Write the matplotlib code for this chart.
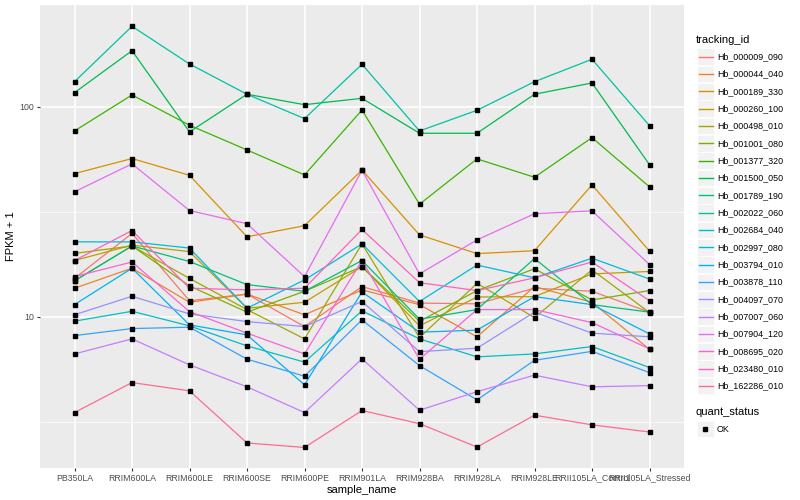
import matplotlib
matplotlib.use('Agg')
import matplotlib.pyplot as plt
from matplotlib.lines import Line2D
from matplotlib.patches import Rectangle

plt.rcParams['font.family'] = ['Liberation Sans', 'DejaVu Sans']

# sample names on the x axis
samples = ['PB350LA', 'RRIM600LA', 'RRIM600LE', 'RRIM600SE', 'RRIM600PE', 'RRIM901LA',
           'RRIM928BA', 'RRIM928LA', 'RRIM928LE', 'RRII105LA_Control', 'RRII105LA_Stressed']

# FPKM + 1 per tracking id, one value per sample
hb_000009_090 = [15.2, 24.9, 11.9, 12.8, 8.96, 13.9, 11.6, 11.5, 13.65, 13.2, 10.5]
hb_000044_040 = [13.65, 17.0, 11.7, 12.8, 10.2, 13.4, 11.4, 8.01, 13.9, 11.7, 6.98]
hb_000189_330 = [48.0, 56.6, 47.1, 24.0, 27.1, 49.9, 24.5, 19.95, 20.6, 42.4, 20.5]
hb_000260_100 = [18.5, 21.9, 20.4, 10.96, 11.7, 17.3, 9.03, 12.4, 12.45, 15.97, 16.4]
hb_000498_010 = [20.0, 21.7, 15.2, 10.8, 7.83, 22.2, 7.94, 14.4, 9.89, 16.7, 10.45]
hb_001001_080 = [14.8, 21.7, 14.0, 10.5, 13.2, 17.3, 9.5, 13.3, 16.9, 12.0, 13.3]
hb_001377_320 = [76.6, 113.7, 81.6, 62.2, 47.3, 96.4, 34.3, 56.4, 46.1, 71.2, 41.5]
hb_001500_050 = [116.6, 184.8, 75.8, 114.6, 102.2, 109.6, 74.7, 74.7, 114.6, 129.7, 52.9]
hb_001789_190 = [14.8, 21.7, 18.3, 14.2, 13.2, 18.5, 9.72, 10.8, 18.9, 11.4, 10.5]
hb_002022_060 = [131.5, 241.5, 159.7, 114.6, 87.7, 159.2, 76.6, 96.1, 131.5, 168.2, 81.2]
hb_002684_040 = [9.51, 10.6, 9.03, 7.25, 6.07, 10.65, 7.83, 6.43, 6.64, 7.20, 5.72]
hb_002997_080 = [22.7, 22.7, 21.2, 10.96, 14.95, 22.2, 11.8, 17.6, 15.3, 18.97, 15.1]
hb_003794_010 = [11.4, 17.0, 9.13, 8.18, 4.73, 13.1, 8.43, 8.62, 12.45, 11.4, 8.27]
hb_003878_110 = [8.12, 8.77, 8.90, 6.27, 5.20, 9.64, 5.84, 4.01, 6.19, 6.83, 5.41]
hb_004097_070 = [10.2, 12.5, 10.3, 9.47, 8.96, 11.8, 6.81, 7.07, 10.5, 8.34, 8.01]
hb_007007_060 = [6.64, 7.83, 5.89, 4.63, 3.49, 6.29, 3.58, 4.39, 5.26, 4.63, 4.69]
hb_007904_120 = [39.3, 53.4, 32.0, 27.7, 15.5, 49.8, 15.97, 23.2, 30.9, 31.9, 17.7]
hb_008695_020 = [15.5, 18.2, 10.56, 8.34, 6.64, 18.5, 6.26, 10.8, 10.8, 9.36, 7.02]
hb_023480_010 = [18.5, 25.7, 13.65, 13.4, 13.65, 26.0, 14.5, 13.3, 15.3, 18.2, 11.9]
hb_162286_010 = [3.49, 4.85, 4.43, 2.50, 2.38, 3.57, 3.09, 2.39, 3.39, 3.05, 2.82]

tracking_ids = ['Hb_000009_090', 'Hb_000044_040', 'Hb_000189_330', 'Hb_000260_100',
                'Hb_000498_010', 'Hb_001001_080', 'Hb_001377_320', 'Hb_001500_050',
                'Hb_001789_190', 'Hb_002022_060', 'Hb_002684_040', 'Hb_002997_080',
                'Hb_003794_010', 'Hb_003878_110', 'Hb_004097_070', 'Hb_007007_060',
                'Hb_007904_120', 'Hb_008695_020', 'Hb_023480_010', 'Hb_162286_010']
series = [hb_000009_090, hb_000044_040, hb_000189_330, hb_000260_100, hb_000498_010,
          hb_001001_080, hb_001377_320, hb_001500_050, hb_001789_190, hb_002022_060,
          hb_002684_040, hb_002997_080, hb_003794_010, hb_003878_110, hb_004097_070,
          hb_007007_060, hb_007904_120, hb_008695_020, hb_023480_010, hb_162286_010]

# ggplot default hue palette for 20 levels
colors = ['#F8766D', '#EA8331', '#D89000', '#C09B00', '#A3A500', '#7CAE00', '#39B600',
          '#00BB4E', '#00BF7D', '#00C1A3', '#00BFC4', '#00BAE0', '#00B0F6', '#35A2FF',
          '#9590FF', '#C77CFF', '#E76BF3', '#FA62DB', '#FF62BC', '#FF6C91']

W, H = 800, 500
fig = plt.figure(figsize=(8, 5), dpi=100)
ax = fig.add_axes([40 / W, 1 - 468 / H, (684 - 40) / W, (468 - 5) / H])
ax.set_facecolor('#EBEBEB')
for s in ax.spines.values():
    s.set_visible(False)

x = list(range(len(samples)))
for vals, c in zip(series, colors):
    ax.plot(x, vals, color=c, lw=0.9, zorder=3)
for vals in series:
    ax.plot(x, vals, ls='none', marker='s', ms=2.4, color='black', zorder=4)

ax.set_yscale('log')
ax.set_ylim(1.9, 305)
ax.set_xlim(-0.6, len(samples) - 0.4)
ax.set_yticks([10, 100])
ax.set_yticklabels(['10', '100'])
ax.set_yticks([10 ** 0.5, 10 ** 1.5], minor=True)
ax.yaxis.set_minor_formatter(plt.NullFormatter())
ax.set_xticks(x)
ax.set_xticklabels(samples)
ax.grid(which='major', color='white', lw=1.1, zorder=0)
ax.grid(which='minor', axis='y', color='white', lw=0.5, zorder=0)
ax.set_axisbelow(True)
ax.tick_params(axis='both', which='major', length=2.5, width=0.8, color='#333333',
               labelsize=6.3, labelcolor='#4D4D4D', pad=1.5)
ax.tick_params(axis='y', which='minor', length=0)
ax.set_xlabel('sample_name', fontsize=8, labelpad=2)
ax.set_ylabel('FPKM + 1', fontsize=8, labelpad=3)

# legend drawn in figure pixel coordinates, ggplot style
def fx(px):
    return px / W

def fy(py):
    return 1 - py / H

fig.text(fx(696), fy(40), 'tracking_id', fontsize=8, va='center', ha='left')
for i, (name, c) in enumerate(zip(tracking_ids, colors)):
    yc = 56.7 + i * 17.33
    fig.add_artist(Rectangle((fx(697), fy(yc + 8.3)), 16.6 / W, 16.6 / H,
                             transform=fig.transFigure, facecolor='#F2F2F2',
                             edgecolor='white', lw=0.5))
    fig.add_artist(Line2D([fx(698.5), fx(712.5)], [fy(yc), fy(yc)],
                          transform=fig.transFigure, color=c, lw=1.0))
    fig.text(fx(717), fy(yc), name, fontsize=6.4, va='center', ha='left')

fig.text(fx(696), fy(412), 'quant_status', fontsize=8, va='center', ha='left')
fig.add_artist(Rectangle((fx(697), fy(429 + 8.3)), 16.6 / W, 16.6 / H,
                         transform=fig.transFigure, facecolor='#F2F2F2',
                         edgecolor='white', lw=0.5))
fig.add_artist(Line2D([fx(705.3)], [fy(429)], transform=fig.transFigure,
                      ls='none', marker='s', ms=2.4, color='black'))
fig.text(fx(717), fy(429), 'OK', fontsize=6.4, va='center', ha='left')

fig.savefig('out.png', dpi=100)
